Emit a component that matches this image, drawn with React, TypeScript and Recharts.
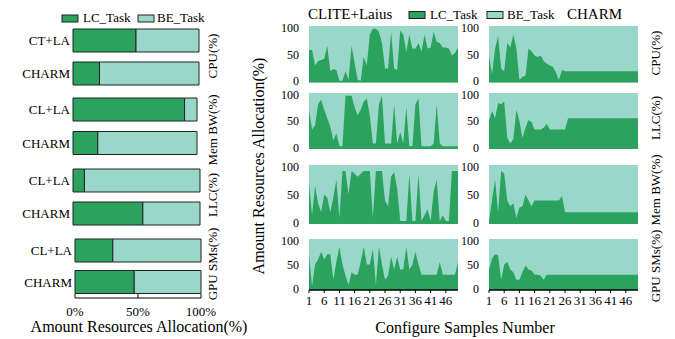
import { AreaChart, Area, BarChart, Bar, XAxis, YAxis, CartesianGrid } from 'recharts'

const LC_COLOR = '#2ca25f'
const BE_COLOR = '#99d8c9'
const EDGE = '#222'
const FONT = '"Liberation Serif", "Times New Roman", serif'

// Left panel: average share per method
const cpuMethods = ['CT+LA', 'CHARM']
const otherMethods = ['CL+LA', 'CHARM']
const cpuLc = [50, 21]
const cpuBe = [50, 79]
const memLc = [90, 20]
const memBe = [10, 80]
const llcLc = [9, 55]
const llcBe = [91, 45]
const gpuLc = [30, 47]
const gpuBe = [70, 53]
const pctTicks = [0, 50, 100]

// Right panel: LC share per configure sample
const sampleNo = [
  1, 2, 3, 4, 5, 6, 7, 8, 9, 10, 11, 12, 13, 14, 15, 16, 17, 18, 19, 20, 21, 22, 23, 24, 25,
  26, 27, 28, 29, 30, 31, 32, 33, 34, 35, 36, 37, 38, 39, 40, 41, 42, 43, 44, 45, 46, 47, 48, 49, 50,
]
const sampleTicks = [1, 6, 11, 16, 21, 26, 31, 36, 41, 46]
const allocTicks = [0, 50, 100]

const cpuClite = [
  57, 58, 30, 38, 40, 42, 65, 20, 24, 22, 3, 3, 20, 5, 65, 35, 5, 3, 45, 30, 85, 95, 95, 90, 70,
  25, 25, 90, 25, 22, 92, 85, 55, 85, 60, 60, 70, 55, 85, 60, 62, 90, 72, 70, 62, 62, 60, 48, 52, 62,
]
const cpuCharm = [
  48, 15, 60, 82, 25, 20, 70, 62, 85, 60, 5, 10, 12, 60, 55, 48, 45, 48, 38, 33, 30, 28, 18, 5, 22,
  20, 20, 20, 20, 20, 20, 20, 20, 20, 20, 20, 20, 20, 20, 20, 20, 20, 20, 20, 20, 20, 20, 20, 20, 20,
]
const llcClite = [
  70, 35, 42, 80, 88, 70, 55, 40, 15, 28, 5, 5, 95, 95, 95, 75, 60, 70, 85, 90, 60, 10, 10, 80, 95,
  10, 10, 10, 80, 10, 30, 10, 75, 5, 5, 80, 90, 5, 5, 5, 5, 10, 80, 10, 5, 5, 5, 5, 5, 5,
]
const llcCharm = [
  50, 68, 55, 82, 80, 85, 20, 10, 18, 70, 50, 20, 38, 52, 48, 35, 35, 35, 38, 45, 35, 35, 35, 35, 35,
  35, 55, 55, 55, 55, 55, 55, 55, 55, 55, 55, 55, 55, 55, 55, 55, 55, 55, 55, 55, 55, 55, 55, 55, 55,
]
const memClite = [
  70, 15, 65, 35, 20, 50, 45, 20, 45, 75, 10, 90, 90, 50, 90, 85, 80, 85, 90, 90, 90, 10, 90, 90, 90,
  40, 30, 80, 88, 60, 5, 5, 5, 85, 5, 5, 85, 5, 15, 25, 5, 55, 75, 5, 15, 5, 5, 90, 90, 90,
]
const memCharm = [
  5, 40, 75, 20, 90, 85, 40, 30, 35, 10, 28, 30, 50, 40, 30, 40, 40, 40, 40, 40, 40, 40, 40, 40, 48,
  20, 20, 20, 20, 20, 20, 20, 20, 20, 20, 20, 20, 20, 20, 20, 20, 20, 20, 20, 20, 20, 20, 20, 20, 20,
]
const gpuClite = [
  70, 8, 50, 60, 75, 60, 70, 70, 20, 55, 85, 50, 28, 10, 35, 30, 30, 55, 85, 50, 50, 80, 10, 85, 50,
  20, 28, 65, 40, 65, 40, 40, 85, 40, 50, 75, 50, 30, 30, 30, 30, 30, 30, 55, 30, 30, 30, 30, 30, 55,
]
const gpuCharm = [
  40, 62, 70, 68, 20, 50, 55, 40, 35, 20, 20, 35, 48, 40, 38, 30, 30, 28, 20, 30, 30, 30, 30, 30, 30,
  30, 30, 30, 30, 30, 30, 30, 30, 30, 30, 30, 30, 30, 30, 30, 30, 30, 30, 30, 30, 30, 30, 30, 30, 30,
]

const samples = sampleNo.map((n, i) => ({
  n,
  cpuClite: cpuClite[i],
  cpuCharm: cpuCharm[i],
  llcClite: llcClite[i],
  llcCharm: llcCharm[i],
  memClite: memClite[i],
  memCharm: memCharm[i],
  gpuClite: gpuClite[i],
  gpuCharm: gpuCharm[i],
}))

const tickStyle = { fill: '#000', fontSize: 13, fontFamily: FONT }

// y tick for the small area panels; nudge the end labels so stacked panels don't collide
function AllocTick(props: any) {
  const { x, y, payload } = props
  const shift = payload.value === 0 ? -1.5 : payload.value === 100 ? 1.5 : 0
  return (
    <text
      x={x}
      y={y + shift}
      dy="0.355em"
      textAnchor="end"
      fontSize={12}
      fontFamily={FONT}
      fill="#000"
    >
      {String(payload.value)}
    </text>
  )
}

interface BarGroupProps {
  names: string[]
  lc: number[]
  be: number[]
  top: number
  plotHeight: number
  plotLeft: number
  plotRight: number
  showAxis?: boolean
}

function BarGroup({ names, lc, be, top, plotHeight, plotLeft, plotRight, showAxis }: BarGroupProps) {
  const data = names.map((name, i) => ({ name, lc: lc[i], be: be[i] }))
  const axisH = showAxis ? 30 : 0
  return (
    <div style={{ position: 'absolute', left: 0, top }}>
      <BarChart
        width={plotRight + 20}
        height={plotHeight + axisH}
        data={data}
        layout="vertical"
        barSize={23}
        margin={{ top: 0, right: 20, bottom: 0, left: 0 }}
      >
        <XAxis
          type="number"
          domain={[0, 100]}
          ticks={pctTicks}
          interval={0}
          hide={!showAxis}
          height={axisH}
          tickFormatter={(v) => `${v}%`}
          axisLine={{ stroke: '#000' }}
          tickLine={{ stroke: '#000' }}
          tickSize={-4}
          tickMargin={13}
          tick={tickStyle}
        />
        <YAxis
          type="category"
          dataKey="name"
          width={plotLeft}
          interval={0}
          tickLine={false}
          axisLine={false}
          tickSize={0}
          tickMargin={3}
          tick={tickStyle}
        />
        <Bar dataKey="lc" stackId="s" fill={LC_COLOR} stroke={EDGE} isAnimationActive={false} />
        <Bar dataKey="be" stackId="s" fill={BE_COLOR} stroke={EDGE} isAnimationActive={false} />
      </BarChart>
    </div>
  )
}

interface AreaPanelProps {
  dataKey: string
  plotLeft: number
  plotTop: number
  plotHeight: number
  showAxis?: boolean
}

const PLOT_W = 149
const Y_AXIS_W = 40

function AreaPanel({ dataKey, plotLeft, plotTop, plotHeight, showAxis }: AreaPanelProps) {
  const axisH = showAxis ? 26 : 0
  return (
    <div style={{ position: 'absolute', left: plotLeft - Y_AXIS_W, top: plotTop - 8 }}>
      <AreaChart
        width={Y_AXIS_W + PLOT_W + 4}
        height={plotHeight + 8 + (showAxis ? axisH : 8)}
        data={samples}
        margin={{ top: 8, right: 4, bottom: showAxis ? 0 : 8, left: 0 }}
      >
        <CartesianGrid fill={BE_COLOR} fillOpacity={1} horizontal={false} vertical={false} />
        <XAxis
          type="number"
          dataKey="n"
          domain={[1, 50]}
          ticks={sampleTicks}
          interval={0}
          hide={!showAxis}
          height={axisH}
          axisLine={{ stroke: '#000', strokeWidth: 1.5 }}
          tickLine={{ stroke: '#000' }}
          tickSize={3}
          tickMargin={3}
          tick={tickStyle}
        />
        <YAxis
          type="number"
          domain={[0, 100]}
          ticks={allocTicks}
          interval={0}
          width={Y_AXIS_W}
          tickLine={false}
          axisLine={false}
          tickSize={0}
          tickMargin={10}
          tick={<AllocTick />}
        />
        <Area
          type="linear"
          dataKey={dataKey}
          fill={LC_COLOR}
          fillOpacity={1}
          stroke="none"
          dot={false}
          activeDot={false}
          isAnimationActive={false}
        />
      </AreaChart>
    </div>
  )
}

function Swatch({ x, y, color }: { x: number; y: number; color: string }) {
  return <rect x={x} y={y} width={16} height={7} fill={color} stroke={EDGE} strokeWidth={1} />
}

function VText({ x, y, children, size = 13 }: { x: number; y: number; children: string; size?: number }) {
  return (
    <text
      transform={`translate(${x},${y}) rotate(-90)`}
      textAnchor="middle"
      dominantBaseline="central"
      fontSize={size}
      fontFamily={FONT}
      fill="#000"
    >
      {children}
    </text>
  )
}

const COL1 = 309.3
const COL2 = 489

export default function App() {
  return (
    <div style={{ position: 'absolute', left: 0, top: 0, width: 675, height: 339, background: '#fff' }}>
      <BarGroup names={cpuMethods} lc={cpuLc} be={cpuBe} top={24} plotHeight={66} plotLeft={73} plotRight={199} />
      <BarGroup names={otherMethods} lc={memLc} be={memBe} top={93} plotHeight={67} plotLeft={73} plotRight={197} />
      <BarGroup names={otherMethods} lc={llcLc} be={llcBe} top={164} plotHeight={66} plotLeft={73} plotRight={200} />
      <BarGroup
        names={otherMethods}
        lc={gpuLc}
        be={gpuBe}
        top={235}
        plotHeight={63}
        plotLeft={75}
        plotRight={201}
        showAxis
      />

      <AreaPanel dataKey="cpuClite" plotLeft={COL1} plotTop={25.5} plotHeight={56.5} />
      <AreaPanel dataKey="cpuCharm" plotLeft={COL2} plotTop={25.5} plotHeight={56.5} />
      <AreaPanel dataKey="llcClite" plotLeft={COL1} plotTop={93} plotHeight={56} />
      <AreaPanel dataKey="llcCharm" plotLeft={COL2} plotTop={93} plotHeight={56} />
      <AreaPanel dataKey="memClite" plotLeft={COL1} plotTop={165} plotHeight={59} />
      <AreaPanel dataKey="memCharm" plotLeft={COL2} plotTop={165} plotHeight={59} />
      <AreaPanel dataKey="gpuClite" plotLeft={COL1} plotTop={239} plotHeight={51} showAxis />
      <AreaPanel dataKey="gpuCharm" plotLeft={COL2} plotTop={239} plotHeight={51} showAxis />

      <svg
        width={675}
        height={339}
        style={{ position: 'absolute', left: 0, top: 0, pointerEvents: 'none' }}
        fontFamily={FONT}
      >
        {/* left legend */}
        <Swatch x={62} y={15} color={LC_COLOR} />
        <text x={83} y={22} fontSize={13}>LC_Task</text>
        <Swatch x={138} y={15} color={BE_COLOR} />
        <text x={157} y={22} fontSize={13}>BE_Task</text>

        <VText x={212} y={56}>CPU(%)</VText>
        <VText x={212} y={130}>Mem BW(%)</VText>
        <VText x={212} y={195}>LLC(%)</VText>
        <VText x={212} y={264}>GPU SMs(%)</VText>

        <text x={139} y={332} fontSize={16} textAnchor="middle">Amount Resources Allocation(%)</text>

        {/* right titles and legend */}
        <text x={308} y={19} fontSize={15}>CLITE+Laius</text>
        <Swatch x={409} y={11.5} color={LC_COLOR} />
        <text x={430} y={18.5} fontSize={13}>LC_Task</text>
        <Swatch x={487} y={11.5} color={BE_COLOR} />
        <text x={507} y={18.5} fontSize={13}>BE_Task</text>
        <text x={567} y={19} fontSize={15}>CHARM</text>

        <VText x={655} y={53}>CPU(%)</VText>
        <VText x={655} y={118}>LLC(%)</VText>
        <VText x={655} y={190}>Mem BW(%)</VText>
        <VText x={655} y={266}>GPU SMs(%)</VText>

        <VText x={258} y={166} size={16}>Amount Resources Allocation(%)</VText>
        <text x={465} y={333} fontSize={16} textAnchor="middle">Configure Samples Number</text>
      </svg>
    </div>
  )
}
